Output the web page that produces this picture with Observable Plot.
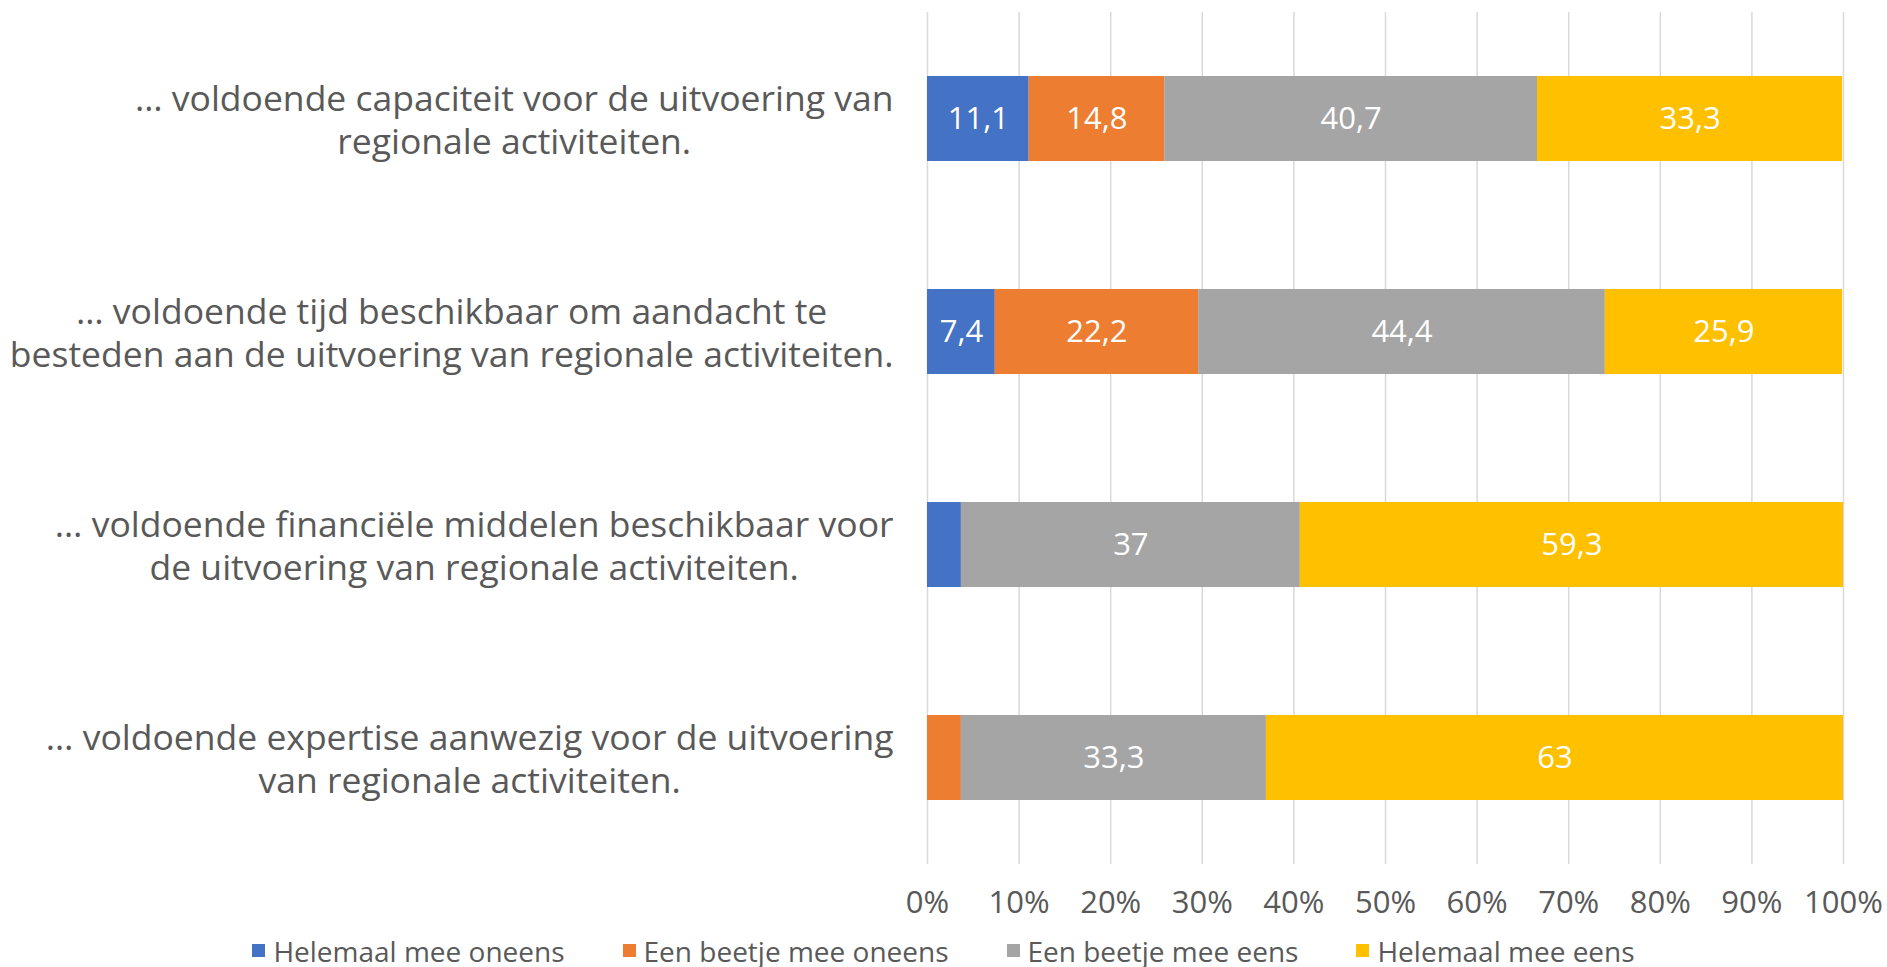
<!DOCTYPE html>
<html>
<head>
<meta charset="utf-8">
<script src="https://cdn.jsdelivr.net/npm/d3@7"></script>
<script src="https://cdn.jsdelivr.net/npm/@observablehq/plot@0.6"></script>
<style>
  html, body { margin: 0; padding: 0; background: #fff; overflow: hidden; }
  #chart svg { display: block; }
  #legend { display: flex; justify-content: center; align-items: center; gap: 58px;
            height: 37px; margin-top: 3px; font-family: "Open Sans", sans-serif; font-size: 28px; color: #595959; }
  #legend .item { display: flex; align-items: center; gap: 8px; white-space: nowrap; }
  #legend .sw { width: 13px; height: 13px; display: inline-block; }
</style>
</head>
<body>
<div id="chart"></div>
<div id="legend"></div>
<script>
const categories = [
  "… voldoende capaciteit voor de uitvoering van\nregionale activiteiten.",
  "… voldoende tijd beschikbaar om aandacht te\nbesteden aan de uitvoering van regionale activiteiten.",
  "… voldoende financiële middelen beschikbaar voor\nde uitvoering van regionale activiteiten.",
  "… voldoende expertise aanwezig voor de uitvoering\nvan regionale activiteiten."
];
const seriesNames = ["Helemaal mee oneens", "Een beetje mee oneens", "Een beetje mee eens", "Helemaal mee eens"];
const helemaalOneens = [11.1, 7.4, 3.7, 0];
const beetjeOneens   = [14.8, 22.2, 0, 3.7];
const beetjeEens     = [40.7, 44.4, 37, 33.3];
const helemaalEens   = [33.3, 25.9, 59.3, 63];
const seriesValues = [helemaalOneens, beetjeOneens, beetjeEens, helemaalEens];
const colors = ["#4472C4", "#ED7D31", "#A5A5A5", "#FFC000"];
const xTicks = [0, 10, 20, 30, 40, 50, 60, 70, 80, 90, 100];

const data = [];
categories.forEach((c, i) => seriesNames.forEach((s, j) => data.push({cat: c, series: s, value: seriesValues[j][i]})));
const fmt = v => String(v).replace(".", ",");

const labelFont = 35.5;
const ctx = document.createElement("canvas").getContext("2d");
ctx.font = `${labelFont}px "Open Sans"`;
const blockWidth = c => Math.max(...c.split("\n").map(l => ctx.measureText(l).width));

const labelMarks = categories.map(c => Plot.text([c], {
  y: d => d, text: d => d, frameAnchor: "left", textAnchor: "middle",
  dx: -34 - blockWidth(c) / 2, fontSize: labelFont, lineHeight: 1.19, fill: "#595959"
}));

const chart = Plot.plot({
  width: 1887,
  height: 929,
  marginLeft: 927,
  marginRight: 44,
  marginTop: 12,
  marginBottom: 65,
  style: {fontFamily: "Open Sans, sans-serif", color: "#595959", background: "white"},
  x: {domain: [0, 100], label: null},
  y: {domain: categories, paddingInner: 0.6, paddingOuter: 0.3, label: null, axis: null},
  color: {domain: seriesNames, range: colors},
  marks: [
    Plot.gridX(xTicks, {stroke: "#D9D9D9", strokeOpacity: 1, strokeWidth: 1.5}),
    Plot.barX(data, Plot.stackX({x: "value", y: "cat", fill: "series", order: seriesNames})),
    Plot.text(data, Plot.stackX({x: "value", y: "cat", z: "series", order: seriesNames,
      text: d => d.value > 5 ? fmt(d.value) : "", fill: "white", fontSize: 31})),
    Plot.axisX(xTicks, {tickSize: 0, tickPadding: 26, fontSize: 31, fill: "#595959", tickFormat: d => d + "%"}),
    ...labelMarks
  ]
});
document.getElementById("chart").appendChild(chart);

const legend = document.getElementById("legend");
seriesNames.forEach((s, i) => {
  const item = document.createElement("div");
  item.className = "item";
  const sw = document.createElement("span");
  sw.className = "sw";
  sw.style.background = colors[i];
  const lab = document.createElement("span");
  lab.textContent = s;
  item.appendChild(sw);
  item.appendChild(lab);
  legend.appendChild(item);
});
</script>
</body>
</html>
